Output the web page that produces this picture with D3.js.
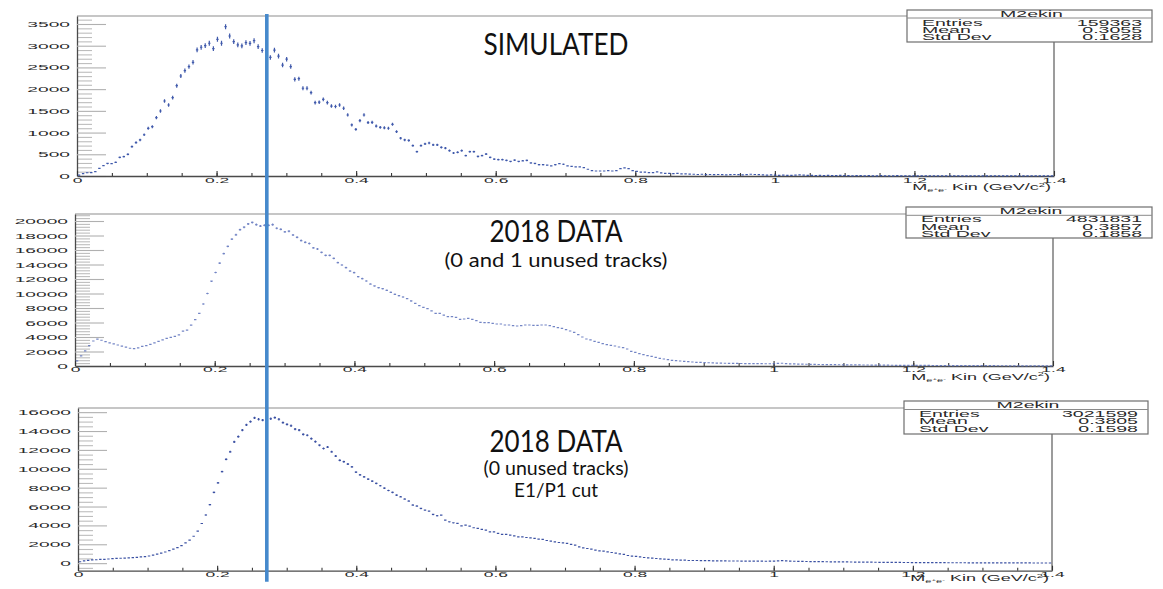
<!DOCTYPE html>
<html>
<head>
<meta charset="utf-8">
<script src="https://cdn.jsdelivr.net/npm/d3@7"></script>
<style>
  body { margin: 0; background: #fff; }
  svg { display: block; }
</style>
</head>
<body>
<svg id="chart" width="1163" height="589"></svg>
<script>
// ---- histogram binning: 240 bins over 0 .. 1.4 GeV/c^2 ----
const xRange = [0, 1.4];
const binCount = 240;

// ---- bin contents ----
const simCounts = [
  20, 55, 75, 80, 100, 175, 240, 290, 285, 315,
  430, 445, 500, 675, 770, 830, 950, 1098, 1135, 1343,
  1497, 1727, 1635, 1803, 2080, 2303, 2425, 2517, 2618, 2902,
  2964, 3000, 3056, 2932, 3148, 3056, 3438, 3224, 3093, 3017,
  2994, 3070, 3055, 3115, 2980, 2890, 2900, 2730, 2900, 2760,
  2555, 2690, 2520, 2225, 2240, 2020, 2020, 1920, 1690, 1700,
  1765, 1690, 1610, 1600, 1635, 1560, 1405, 1175, 1075, 1275,
  1405, 1230, 1235, 1150, 1120, 1110, 1100, 1190, 1020, 870,
  830, 820, 700, 560, 700, 740, 760, 715, 715, 660,
  640, 585, 530, 545, 585, 470, 560, 560, 450, 470,
  505, 430, 390, 375, 375, 360, 335, 365, 335, 350,
  360, 300, 290, 260, 260, 250, 235, 260, 285, 270,
  235, 220, 210, 210, 195, 155, 125, 115, 115, 115,
  125, 115, 125, 170, 185, 170, 125, 105, 90, 90,
  80, 80, 95, 70, 60, 60, 55, 60, 50, 50,
  45, 40, 35, 40, 30, 35, 30, 35, 30, 25,
  30, 35, 30, 25, 30, 40, 35, 30, 25, 20,
  25, 20, 15, 20, 15, 15, 20, 25, 20, 15,
  15, 10, 15, 10, 15, 10, 10, 15, 10, 10,
  5, 10, 10, 5, 10, 5, 5, 10, 5, 5,
  5, 10, 5, 5, 5, 5, 3, 5, 5, 3,
  5, 3, 3, 5, 3, 3, 2, 3, 5, 2,
  3, 2, 3, 2, 2, 3, 2, 2, 1, 2,
  2, 1, 2, 1, 1, 2, 1, 1, 1, 1
];

const data01Counts = [
  700, 1400, 2100, 2800, 3450, 3700, 3550, 3350, 3200, 3050,
  2900, 2750, 2600, 2450, 2400, 2500, 2700, 2800, 2990, 3200,
  3400, 3600, 3800, 3950, 4100, 4300, 4800, 4950, 5650, 6400,
  7250, 8550, 10000, 11700, 12900, 14200, 15500, 16500, 17500, 18100,
  18800, 19150, 19600, 19800, 19500, 19300, 19400, 19400, 19500, 19000,
  18850, 18500, 18600, 18070, 17750, 17300, 17060, 16900, 16300, 16140,
  15680, 15270, 15270, 14850, 14250, 13930, 13560, 13100, 12875, 12320,
  12050, 11725, 11300, 11050, 10800, 10670, 10440, 10160, 9890, 9700,
  9520, 9290, 8970, 8640, 8320, 8090, 7910, 7590, 7260, 7260,
  7030, 6800, 6800, 6710, 6440, 6480, 6575, 6440, 6250, 6020,
  5980, 5980, 5890, 5790, 5790, 5655, 5655, 5565, 5520, 5565,
  5655, 5655, 5610, 5610, 5655, 5655, 5565, 5425, 5290, 5200,
  5010, 4830, 4645, 4320, 4000, 3725, 3590, 3400, 3265, 3080,
  2940, 2850, 2760, 2620, 2530, 2345, 2020, 1885, 1700, 1565,
  1425, 1335, 1195, 1060, 965, 875, 780, 735, 690, 645,
  600, 550, 510, 500, 460, 450, 420, 400, 390, 380,
  370, 360, 350, 345, 340, 330, 330, 320, 320, 310,
  310, 320, 350, 380, 340, 300, 280, 260, 250, 240,
  230, 220, 210, 200, 190, 185, 180, 170, 165, 160,
  155, 150, 145, 140, 135, 130, 125, 120, 115, 110,
  105, 100, 100, 95, 90, 90, 85, 80, 80, 75,
  70, 70, 65, 65, 60, 60, 55, 55, 50, 50,
  50, 45, 45, 40, 40, 40, 35, 35, 35, 30,
  30, 30, 30, 25, 25, 25, 25, 20, 20, 20
];

const data0CutCounts = [
  150, 250, 300, 340, 360, 390, 410, 440, 470, 500,
  520, 540, 560, 590, 620, 660, 700, 760, 850, 950,
  1060, 1180, 1320, 1480, 1640, 1850, 2150, 2450, 2850, 3400,
  4200, 5100, 6200, 7500, 8500, 9700, 11000, 11800, 12850, 13400,
  14100, 14650, 15000, 15400, 15250, 15150, 15270, 15300, 15420, 15250,
  14900, 14700, 14560, 14200, 14100, 13650, 13550, 13200, 12870, 12500,
  12150, 12300, 11800, 11350, 10900, 10750, 10500, 10200, 9650, 9350,
  9150, 8900, 8700, 8450, 8200, 7950, 7700, 7500, 7210, 7030,
  6790, 6575, 6150, 6045, 5800, 5620, 5515, 5160, 5020, 5090,
  4560, 4385, 4280, 4205, 3960, 4030, 3925, 3750, 3675, 3570,
  3500, 3320, 3320, 3145, 3040, 3040, 2970, 2900, 2790, 2790,
  2720, 2685, 2615, 2545, 2510, 2400, 2330, 2260, 2190, 2155,
  2085, 1980, 1910, 1730, 1625, 1555, 1485, 1380, 1310, 1270,
  1200, 1130, 1060, 990, 920, 810, 740, 710, 670, 600,
  565, 530, 495, 460, 425, 390, 355, 355, 320, 320,
  280, 280, 280, 270, 260, 260, 250, 250, 240, 240,
  230, 230, 230, 220, 220, 210, 220, 210, 210, 200,
  210, 220, 250, 260, 240, 220, 200, 190, 180, 175,
  170, 165, 160, 155, 150, 145, 140, 135, 130, 125,
  120, 115, 110, 105, 100, 100, 95, 90, 90, 85,
  80, 80, 75, 70, 70, 65, 65, 60, 60, 55,
  55, 50, 50, 50, 45, 45, 40, 40, 40, 35,
  35, 35, 30, 30, 30, 30, 25, 25, 25, 25,
  20, 20, 20, 20, 20, 15, 15, 15, 15, 15
];

// ---- axis ticks ----
const xTickValues = [0, 0.2, 0.4, 0.6, 0.8, 1, 1.2, 1.4];
const xTickLabels = ["0", "0.2", "0.4", "0.6", "0.8", "1", "1.2", "1.4"];
const simYTicks = [0, 500, 1000, 1500, 2000, 2500, 3000, 3500];
const data01YTicks = [0, 2000, 4000, 6000, 8000, 10000, 12000, 14000, 16000, 18000, 20000];
const data0CutYTicks = [0, 2000, 4000, 6000, 8000, 10000, 12000, 14000, 16000];

// ---- statistics boxes ----
const statsTitle = "M2ekin";
const statNames = ["Entries", "Mean", "Std Dev"];
const simStats = ["159363", "0.3055", "0.1628"];
const data01Stats = ["4831831", "0.3857", "0.1858"];
const data0CutStats = ["3021599", "0.3805", "0.1598"];

// ---- annotations ----
const simTitle = ["SIMULATED"];
const data01Title = ["2018 DATA", "(0 and 1 unused tracks)"];
const data0CutTitle = ["2018 DATA", "(0 unused tracks)", "E1/P1 cut"];
const cutMass = 0.272;

// ---------------------------------------------------------------
const svg = d3.select("#chart");
const rootFont = "'Liberation Sans', Arial, sans-serif";
const titleFont = "Lato, 'Open Sans', sans-serif";

// ROOT text on this canvas is stretched horizontally
function stretch(sel, sx) {
  sel.each(function () {
    const t = d3.select(this);
    const x0 = +(t.attr("x") || 0);
    t.attr("x", x0 / sx).attr("transform", `scale(${sx},1)`);
  });
}

const panels = [
  {
    counts: simCounts, yTicks: simYTicks, yMinorStep: 100, yDomain: [0, 3684],
    left: 77, right: 1054, top: 16, bottom: 176,
    markColor: "#3550a6", markOpacity: 0.95,
    xLabelBase: 183, axisTitleBase: 190.5,
    box: { x: 907, y: 10, w: 245, h: 32, titleBase: 17, sep: 18, rows: [25.8, 33.2, 40.5] },
    stats: simStats,
    titles: simTitle, titleBases: [55], titleSizes: [30], titleLens: [145]
  },
  {
    counts: data01Counts, yTicks: data01YTicks, yMinorStep: 400, yDomain: [0, 20966],
    left: 75, right: 1053, top: 214, bottom: 366,
    markColor: "#5a70bb", markOpacity: 0.85,
    xLabelBase: 371.5, axisTitleBase: 380,
    box: { x: 906, y: 207, w: 246, h: 31, titleBase: 214.3, sep: 215.3, rows: [222.5, 229.8, 237] },
    stats: data01Stats,
    titles: data01Title, titleBases: [241.7, 267], titleSizes: [30, 19.5], titleLens: [133, 223]
  },
  {
    counts: data0CutCounts, yTicks: data0CutYTicks, yMinorStep: 500, yDomain: [-800, 16440],
    left: 78, right: 1052, top: 408, bottom: 570.7,
    markColor: "#30489e", markOpacity: 0.95,
    xLabelBase: 576.5, axisTitleBase: 581.5,
    box: { x: 904, y: 401, w: 244, h: 33, titleBase: 408.3, sep: 409.5, rows: [416.6, 424.4, 432] },
    stats: data0CutStats,
    titles: data0CutTitle, titleBases: [451.7, 474.5, 496.5], titleSizes: [30, 19.5, 19.5], titleLens: [133, 145, 84]
  }
];

const binWidth = (xRange[1] - xRange[0]) / binCount;
let firstX = null;

panels.forEach((p) => {
  const x = d3.scaleLinear(xRange, [p.left, p.right]);
  const y = d3.scaleLinear(p.yDomain, [p.bottom, p.top]);
  if (!firstX) firstX = x;
  const g = svg.append("g");

  // frame: top edge and right edge
  g.append("line")
    .attr("x1", p.left).attr("x2", p.box.x)
    .attr("y1", p.top).attr("y2", p.top)
    .attr("stroke", "#b3b3b3").attr("stroke-width", 1.3);
  g.append("line")
    .attr("x1", p.right).attr("x2", p.right)
    .attr("y1", p.top).attr("y2", p.bottom)
    .attr("stroke", "#5a5a5a").attr("stroke-width", 1.2);

  // y axis: minor ticks
  const minorVals = d3.range(Math.ceil(p.yDomain[0] / p.yMinorStep) * p.yMinorStep, p.yDomain[1], p.yMinorStep)
    .filter(v => !p.yTicks.includes(v));
  const gyMinor = g.append("g").attr("transform", `translate(${p.left},0)`)
    .call(d3.axisLeft(y).tickValues(minorVals).tickSize(-15).tickSizeOuter(0).tickFormat(""));
  gyMinor.select(".domain").remove();
  gyMinor.selectAll("line").attr("stroke", "#bdbdbd").attr("stroke-width", 1.1);

  // y axis: major ticks with labels
  const gy = g.append("g").attr("transform", `translate(${p.left},0)`)
    .call(d3.axisLeft(y).tickValues(p.yTicks).tickSize(-29).tickSizeOuter(0).tickPadding(7)
      .tickFormat(d => String(d)));
  gy.attr("font-family", rootFont).attr("font-size", 8);
  gy.select(".domain").attr("stroke", "#4a4a4a").attr("stroke-width", 1.3);
  gy.selectAll(".tick line").attr("stroke", "#b0b0b0").attr("stroke-width", 1.1);
  gy.selectAll(".tick text").attr("fill", "#2a2a2a");
  stretch(gy.selectAll(".tick text"), 2.4);

  // x axis: minor ticks
  const xMinorVals = d3.range(1, 28).map(k => k * 0.05);
  const gxMinor = g.append("g").attr("transform", `translate(0,${p.bottom})`)
    .call(d3.axisBottom(x).tickValues(xMinorVals).tickSize(-3).tickSizeOuter(0).tickFormat(""));
  gxMinor.select(".domain").remove();
  gxMinor.selectAll("line").attr("stroke", "#3a3a3a").attr("stroke-width", 1.1);

  // x axis: major ticks with labels
  const gx = g.append("g").attr("transform", `translate(0,${p.bottom})`)
    .call(d3.axisBottom(x).tickValues(xTickValues).tickSize(-5).tickSizeOuter(0)
      .tickFormat((d, i) => xTickLabels[i]));
  gx.attr("font-family", rootFont).attr("font-size", 7.6);
  gx.select(".domain").attr("stroke", "#4a4a4a").attr("stroke-width", 1.3);
  gx.selectAll(".tick line").attr("stroke", "#333").attr("stroke-width", 1.1);
  gx.selectAll(".tick text").attr("fill", "#2a2a2a")
    .attr("y", p.xLabelBase - p.bottom).attr("dy", 0);
  stretch(gx.selectAll(".tick text"), 2.3);

  // axis title  M_{e+e-} Kin (GeV/c^2)
  const at = g.append("text")
    .attr("x", (p.right - 3) / 2.0).attr("y", p.axisTitleBase)
    .attr("transform", "scale(2.0,1)")
    .attr("text-anchor", "end")
    .attr("font-family", rootFont).attr("font-size", 9).attr("fill", "#2a2a2a");
  at.append("tspan").text("M");
  at.append("tspan").attr("font-size", 5.5).attr("dy", 1.8).text("e");
  at.append("tspan").attr("font-size", 4).attr("dy", -1.8).text("+");
  at.append("tspan").attr("font-size", 5.5).attr("dy", 1.8).text("e");
  at.append("tspan").attr("font-size", 4).attr("dy", -1.8).text("-");
  at.append("tspan").text(" Kin (GeV/c");
  at.append("tspan").attr("font-size", 5.5).attr("dy", -3.5).text("2");
  at.append("tspan").attr("dy", 3.5).text(")");

  // histogram points with statistical error bars
  const bins = p.counts.map((c, i) => ({ xc: (i + 0.5) * binWidth, c }))
    .filter(d => d.c > 0);
  const mg = g.append("g").attr("stroke", p.markColor).attr("stroke-opacity", p.markOpacity)
    .attr("stroke-width", 1.2).attr("fill", "none");
  mg.selectAll("path").data(bins).join("path")
    .attr("d", d => {
      const cx = x(d.xc), cy = y(d.c), e = Math.sqrt(d.c);
      return `M${cx - 1.2},${cy}H${cx + 1.2}M${cx},${y(d.c + e)}V${y(d.c - e)}`;
    });

  // statistics box
  const b = p.box;
  g.append("rect").attr("x", b.x).attr("y", b.y).attr("width", b.w).attr("height", b.h)
    .attr("fill", "#fff").attr("stroke", "#6e6e6e").attr("stroke-width", 1.2);
  g.append("line").attr("x1", b.x).attr("x2", b.x + b.w).attr("y1", b.sep).attr("y2", b.sep)
    .attr("stroke", "#8a8a8a").attr("stroke-width", 1);
  const st = g.append("g").attr("font-family", rootFont).attr("font-size", 9.3).attr("fill", "#2a2a2a");
  st.append("text").attr("x", b.x + b.w / 2 + 2).attr("y", b.titleBase)
    .attr("text-anchor", "middle").text(statsTitle);
  statNames.forEach((name, i) => {
    st.append("text").attr("x", b.x + 15).attr("y", b.rows[i]).text(name);
    st.append("text").attr("x", b.x + b.w - 10).attr("y", b.rows[i])
      .attr("text-anchor", "end").text(p.stats[i]);
  });
  stretch(st.selectAll("text"), 2.1);

  // panel annotation
  p.titles.forEach((t, i) => {
    g.append("text")
      .attr("x", 556).attr("y", p.titleBases[i])
      .attr("text-anchor", "middle")
      .attr("font-family", titleFont).attr("font-size", p.titleSizes[i])
      .attr("fill", "#111")
      .attr("textLength", p.titleLens[i]).attr("lengthAdjust", "spacingAndGlyphs")
      .text(t);
  });
});

// cut position, drawn across all three panels
svg.append("line")
  .attr("x1", firstX(cutMass)).attr("x2", firstX(cutMass))
  .attr("y1", panels[0].top - 2).attr("y2", panels[2].bottom + 11)
  .attr("stroke", "#4689cc").attr("stroke-width", 3.6);
</script>
</body>
</html>
